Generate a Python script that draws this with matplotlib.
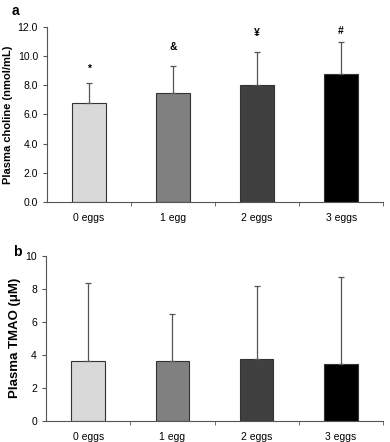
import matplotlib
matplotlib.use("Agg")
import matplotlib.pyplot as plt
import numpy as np

# ---------------------------------------------------------------------------
# Data
# ---------------------------------------------------------------------------
groups = ["0 eggs", "1 egg", "2 eggs", "3 eggs"]
bar_colors = ["#d9d9d9", "#808080", "#404040", "#000000"]

choline_mean = [6.8, 7.5, 8.05, 8.75]
choline_sd = [1.35, 1.8, 2.25, 2.25]
choline_marks = ["*", "&", "¥", "#"]
choline_mark_y = [9.1, 10.6, 11.6, 11.75]

tmao_mean = [3.65, 3.6, 3.75, 3.45]
tmao_sd = [4.73, 2.9, 4.45, 5.25]

plt.rcParams["font.family"] = ["Liberation Sans", "DejaVu Sans"]

fig = plt.figure(figsize=(3.9, 4.42), dpi=100)
ax_a = fig.add_axes([0.1205, 0.543, 0.862, 0.396])
ax_b = fig.add_axes([0.118, 0.048, 0.864, 0.373])

x = np.arange(len(groups))


def draw_panel(ax, means, sds, ylim, yticks, fmt, ylabel, label_size):
    ax.bar(x, means, width=0.4, color=bar_colors, edgecolor="#333333",
           linewidth=0.8, zorder=2)
    ax.errorbar(x, means, yerr=[np.zeros(len(means)), sds], fmt="none",
                ecolor="#555555", elinewidth=0.9, capsize=2, capthick=0.9,
                zorder=3)
    ax.set_xlim(-0.5, len(groups) - 0.5)
    ax.set_ylim(*ylim)
    ax.set_yticks(yticks)
    ax.set_yticklabels([fmt.format(v) for v in yticks])
    ax.set_xticks(x)
    ax.set_xticklabels(groups)
    # boundary ticks between the groups
    ax.set_xticks(np.arange(0.5, len(groups), 1.0), minor=True)
    ax.tick_params(axis="x", which="major", length=0, labelsize=7.5, pad=8)
    ax.tick_params(axis="x", which="minor", length=3, direction="out",
                   color="#555555")
    ax.tick_params(axis="y", length=3, labelsize=7.5, color="#555555")
    for side in ("top", "right"):
        ax.spines[side].set_visible(False)
    for side in ("left", "bottom"):
        ax.spines[side].set_color("#555555")
        ax.spines[side].set_linewidth(0.8)
    ax.set_ylabel(ylabel, fontsize=label_size, fontweight="bold", labelpad=3)


draw_panel(ax_a, choline_mean, choline_sd, (0, 12), np.arange(0, 12.1, 2),
           "{:.1f}", "Plasma choline (nmol/mL)", 8)
for xi, m, my in zip(x, choline_marks, choline_mark_y):
    ax_a.text(xi, my, m, ha="center", va="center", fontsize=7.5,
              fontweight="bold", clip_on=False)

draw_panel(ax_b, tmao_mean, tmao_sd, (0, 10), np.arange(0, 10.1, 2),
           "{:.0f}", "Plasma TMAO (\u03bcM)", 9.5)

fig.text(0.03, 0.975, "a", fontsize=10, fontweight="bold", va="center")
fig.text(0.033, 0.43, "b", fontsize=10, fontweight="bold", va="center")

fig.savefig("out.png", dpi=100)
